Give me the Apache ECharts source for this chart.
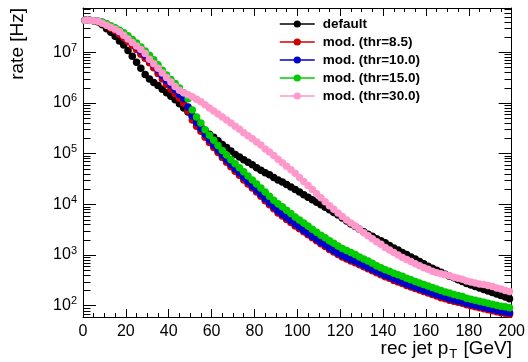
<!DOCTYPE html>
<html>
<head>
<meta charset="utf-8">
<script src="https://cdn.jsdelivr.net/npm/echarts@6/dist/echarts.min.js"></script>
<style>
  html, body { margin: 0; padding: 0; background: #fff; }
  #chart_container { width: 528px; height: 362px; }
</style>
</head>
<body>
<div id="chart_container"></div>
<script>
"use strict";

// bin centres, rec jet pT [GeV] (2 GeV bins)
const ptBins = [
    1, 3, 5, 7, 9, 11, 13, 15, 17, 19,
    21, 23, 25, 27, 29, 31, 33, 35, 37, 39,
    41, 43, 45, 47, 49, 51, 53, 55, 57, 59,
    61, 63, 65, 67, 69, 71, 73, 75, 77, 79,
    81, 83, 85, 87, 89, 91, 93, 95, 97, 99,
    101, 103, 105, 107, 109, 111, 113, 115, 117, 119,
    121, 123, 125, 127, 129, 131, 133, 135, 137, 139,
    141, 143, 145, 147, 149, 151, 153, 155, 157, 159,
    161, 163, 165, 167, 169, 171, 173, 175, 177, 179,
    181, 183, 185, 187, 189, 191, 193, 195, 197, 199
];

// log10(rate [Hz]), one value per bin
const logRateDefault = [
    7.63, 7.63, 7.62, 7.60, 7.54, 7.46, 7.39, 7.31, 7.22, 7.14,
    7.03, 6.92, 6.80, 6.68, 6.56, 6.47, 6.40, 6.34, 6.27, 6.20,
    6.13, 6.06, 5.98, 5.90, 5.82, 5.73, 5.63, 5.53, 5.45, 5.38,
    5.32, 5.25, 5.18, 5.12, 5.05, 4.98, 4.93, 4.88, 4.83, 4.78,
    4.72, 4.67, 4.62, 4.58, 4.53, 4.48, 4.44, 4.39, 4.34, 4.29,
    4.24, 4.19, 4.14, 4.09, 4.04, 3.99, 3.94, 3.89, 3.84, 3.79,
    3.73, 3.67, 3.61, 3.56, 3.51, 3.46, 3.41, 3.37, 3.32, 3.28,
    3.24, 3.19, 3.14, 3.10, 3.05, 3.01, 2.96, 2.92, 2.87, 2.83,
    2.78, 2.74, 2.70, 2.66, 2.62, 2.58, 2.55, 2.51, 2.48, 2.44,
    2.41, 2.38, 2.35, 2.32, 2.29, 2.26, 2.23, 2.20, 2.17, 2.14
];
const logRateThr85 = [
    7.63, 7.63, 7.62, 7.60, 7.58, 7.53, 7.47, 7.42, 7.35, 7.29,
    7.21, 7.13, 7.05, 6.96, 6.88, 6.79, 6.69, 6.58, 6.47, 6.36,
    6.27, 6.18, 6.09, 5.99, 5.84, 5.66, 5.54, 5.44, 5.32, 5.22,
    5.12, 5.02, 4.92, 4.83, 4.74, 4.65, 4.57, 4.48, 4.40, 4.32,
    4.24, 4.16, 4.07, 3.99, 3.91, 3.83, 3.77, 3.70, 3.64, 3.57,
    3.52, 3.46, 3.40, 3.34, 3.28, 3.22, 3.17, 3.11, 3.06, 3.01,
    2.96, 2.92, 2.88, 2.85, 2.81, 2.77, 2.73, 2.69, 2.65, 2.61,
    2.57, 2.54, 2.50, 2.47, 2.44, 2.40, 2.37, 2.34, 2.31, 2.28,
    2.25, 2.22, 2.19, 2.16, 2.14, 2.11, 2.09, 2.07, 2.05, 2.02,
    2.00, 1.98, 1.96, 1.94, 1.92, 1.90, 1.88, 1.86, 1.85, 1.83
];
const logRateThr10 = [
    7.63, 7.63, 7.62, 7.61, 7.59, 7.55, 7.50, 7.45, 7.39, 7.33,
    7.26, 7.19, 7.11, 7.02, 6.94, 6.85, 6.76, 6.65, 6.54, 6.44,
    6.35, 6.26, 6.17, 6.08, 5.92, 5.74, 5.61, 5.50, 5.38, 5.27,
    5.17, 5.07, 4.97, 4.88, 4.79, 4.70, 4.62, 4.53, 4.45, 4.36,
    4.28, 4.20, 4.11, 4.03, 3.95, 3.87, 3.81, 3.74, 3.68, 3.61,
    3.55, 3.49, 3.43, 3.37, 3.31, 3.25, 3.20, 3.14, 3.09, 3.04,
    2.99, 2.95, 2.91, 2.88, 2.84, 2.80, 2.76, 2.72, 2.68, 2.64,
    2.60, 2.57, 2.53, 2.50, 2.47, 2.43, 2.40, 2.37, 2.34, 2.31,
    2.28, 2.25, 2.22, 2.19, 2.17, 2.14, 2.12, 2.10, 2.08, 2.05,
    2.03, 2.01, 1.99, 1.97, 1.95, 1.93, 1.91, 1.89, 1.88, 1.86
];
const logRateThr15 = [
    7.63, 7.63, 7.62, 7.61, 7.59, 7.56, 7.52, 7.48, 7.43, 7.38,
    7.32, 7.25, 7.18, 7.10, 7.02, 6.94, 6.85, 6.75, 6.64, 6.55,
    6.46, 6.38, 6.29, 6.20, 6.08, 5.86, 5.72, 5.60, 5.47, 5.36,
    5.26, 5.16, 5.06, 4.97, 4.88, 4.80, 4.72, 4.64, 4.56, 4.48,
    4.40, 4.32, 4.24, 4.16, 4.08, 4.01, 3.95, 3.88, 3.82, 3.75,
    3.69, 3.63, 3.57, 3.51, 3.45, 3.39, 3.34, 3.28, 3.23, 3.18,
    3.13, 3.09, 3.05, 3.01, 2.96, 2.92, 2.88, 2.84, 2.79, 2.75,
    2.71, 2.68, 2.64, 2.61, 2.58, 2.54, 2.51, 2.48, 2.45, 2.42,
    2.39, 2.36, 2.33, 2.30, 2.27, 2.25, 2.22, 2.20, 2.18, 2.15,
    2.13, 2.11, 2.09, 2.07, 2.05, 2.03, 2.01, 1.99, 1.98, 1.96
];
const logRateThr30 = [
    7.63, 7.63, 7.62, 7.61, 7.57, 7.53, 7.49, 7.45, 7.40, 7.33,
    7.26, 7.19, 7.12, 7.05, 6.97, 6.86, 6.77, 6.68, 6.59, 6.50,
    6.41, 6.32, 6.25, 6.20, 6.16, 6.12, 6.07, 6.02, 5.96, 5.90,
    5.84, 5.78, 5.72, 5.66, 5.60, 5.54, 5.48, 5.41, 5.35, 5.29,
    5.23, 5.17, 5.09, 5.03, 4.96, 4.89, 4.82, 4.75, 4.68, 4.61,
    4.53, 4.45, 4.37, 4.29, 4.21, 4.13, 4.05, 3.97, 3.90, 3.83,
    3.76, 3.69, 3.63, 3.57, 3.51, 3.44, 3.38, 3.32, 3.26, 3.21,
    3.15, 3.10, 3.05, 3.00, 2.95, 2.91, 2.87, 2.83, 2.79, 2.75,
    2.72, 2.68, 2.65, 2.63, 2.61, 2.59, 2.56, 2.54, 2.52, 2.49,
    2.47, 2.45, 2.43, 2.42, 2.40, 2.38, 2.35, 2.33, 2.30, 2.28
];

const seriesNames = ['default', 'mod. (thr=8.5)', 'mod. (thr=10.0)', 'mod. (thr=15.0)', 'mod. (thr=30.0)'];
const seriesColors = ['#000000', '#cc0000', '#0000cc', '#00cc00', '#ff99cc'];
const seriesLogRates = [logRateDefault, logRateThr85, logRateThr10, logRateThr15, logRateThr30];

// axis ranges
const xMin = 0, xMax = 200, xStep = 20;
const yMin = 60, yMax = 7.4e7;

const fontName = 'Liberation Sans';

let myChart;

// ROOT style minor ticks (2..9 x 10^k) on the log axis
let minorLogTicks = () => {
    let out = [];
    for (let k = 1; k <= 7; k++) {
        for (let m = 2; m <= 9; m++) {
            let v = m * Math.pow(10, k);
            if (v > yMin && v < yMax) out.push([xMin, v]);
        }
    }
    return out;
};

let decadeLabel = (v) => {
    let e = Math.log10(v);
    let r = Math.round(e);
    if (Math.abs(e - r) > 0.01) return '';
    return '{b|10}{s|' + r + '}';
};

let tickLine = (x1, y1, x2, y2) => ({
    type: 'line',
    shape: { x1: x1, y1: y1, x2: x2, y2: y2 },
    style: { stroke: '#000', lineWidth: 1 }
});

let pageLoaded = () => {
    let chartDom = document.getElementById('chart_container');
    myChart = echarts.init(chartDom, null, { renderer: 'canvas' });

    let lineSeries = seriesNames.map((name, i) => ({
        name: name,
        type: 'line',
        xAxisIndex: 0,
        yAxisIndex: 0,
        symbol: 'circle',
        symbolSize: 7.5,
        showSymbol: true,
        showAllSymbol: true,
        color: seriesColors[i],
        itemStyle: { color: seriesColors[i] },
        lineStyle: { color: seriesColors[i], opacity: 0, width: 1.5 },
        emphasis: { disabled: true },
        data: ptBins.map((x, j) => [x, Math.pow(10, seriesLogRates[i][j])])
    }));

    let minorSeries = {
        type: 'custom',
        xAxisIndex: 0,
        yAxisIndex: 0,
        silent: true,
        clip: false,
        z: 1,
        data: minorLogTicks(),
        renderItem: (params, api) => {
            let v = api.value(1);
            let pl = api.coord([xMin, v]);
            let pr = api.coord([xMax, v]);
            let y = Math.round(pl[1]) + 0.5;
            let xl = Math.round(pl[0]) + 0.5;
            let xr = Math.round(pr[0]) - 0.5;
            return {
                type: 'group',
                children: [tickLine(xl, y, xl + 7, y), tickLine(xr, y, xr - 7, y)]
            };
        }
    };

    let xAxisBase = {
        type: 'value',
        min: xMin,
        max: xMax,
        interval: xStep,
        axisLine: { show: true, onZero: false, lineStyle: { color: '#000', width: 1 } },
        axisTick: { show: true, inside: true, length: 8, lineStyle: { color: '#000' } },
        minorTick: { show: true, splitNumber: 4, length: 4, lineStyle: { color: '#000' } },
        splitLine: { show: false },
        minorSplitLine: { show: false }
    };

    let yAxisBase = {
        type: 'log',
        logBase: 10,
        min: yMin,
        max: yMax,
        axisLine: { show: true, onZero: false, lineStyle: { color: '#000', width: 1 } },
        axisTick: { show: true, inside: true, length: 13, lineStyle: { color: '#000' } },
        splitLine: { show: false }
    };

    let optEchart = {
        animation: false,
        backgroundColor: '#fff',
        textStyle: { fontFamily: fontName },
        grid: { left: 83, right: 16, top: 8, bottom: 45, containLabel: false },
        title: {
            text: '{n|rec jet p}{sub|T}{n| [GeV]}',
            right: 16,
            top: 338,
            padding: 0,
            textStyle: {
                fontWeight: 'normal',
                rich: {
                    n: { fontFamily: fontName, fontSize: 19, fontWeight: 'normal', lineHeight: 22, color: '#000' },
                    sub: { fontFamily: fontName, fontSize: 13, fontWeight: 'normal', lineHeight: 13, padding: [11, 1, 0, 1], color: '#000' }
                }
            }
        },
        legend: {
            data: seriesNames,
            orient: 'vertical',
            left: 279,
            top: 16,
            padding: 0,
            itemWidth: 35,
            itemHeight: 9,
            itemGap: 2,
            selectedMode: false,
            lineStyle: { opacity: 1, width: 1.5 },
            textStyle: {
                fontFamily: fontName,
                fontSize: 13.5,
                fontWeight: 'bold',
                color: '#000',
                lineHeight: 16,
                padding: [0, 0, 0, 3]
            }
        },
        xAxis: [
            Object.assign({}, xAxisBase, {
                position: 'bottom',
                axisLabel: { show: true, color: '#000', fontFamily: fontName, fontSize: 16, margin: 7 }
            }),
            Object.assign({}, xAxisBase, {
                position: 'top',
                axisLabel: { show: false }
            })
        ],
        yAxis: [
            Object.assign({}, yAxisBase, {
                position: 'left',
                name: 'rate [Hz]',
                nameLocation: 'end',
                nameGap: 0,
                nameRotate: 90,
                nameMoveOverlap: false,
                nameTextStyle: {
                    fontFamily: fontName,
                    fontSize: 19,
                    color: '#000',
                    align: 'right',
                    verticalAlign: 'bottom',
                    padding: [0, 0, 56, 0]
                },
                axisLabel: {
                    show: true,
                    margin: 6,
                    formatter: decadeLabel,
                    rich: {
                        b: { fontFamily: fontName, fontSize: 16, lineHeight: 18, color: '#000' },
                        s: { fontFamily: fontName, fontSize: 11, lineHeight: 11, padding: [0, 0, 9, 0], color: '#000' }
                    }
                }
            }),
            Object.assign({}, yAxisBase, {
                position: 'right',
                axisLabel: { show: false }
            })
        ],
        series: [minorSeries].concat(lineSeries)
    };

    optEchart && myChart.setOption(optEchart);
    console.log(`echart config and creation complete`);
};

window.addEventListener('load', pageLoaded, false);
</script>
</body>
</html>
